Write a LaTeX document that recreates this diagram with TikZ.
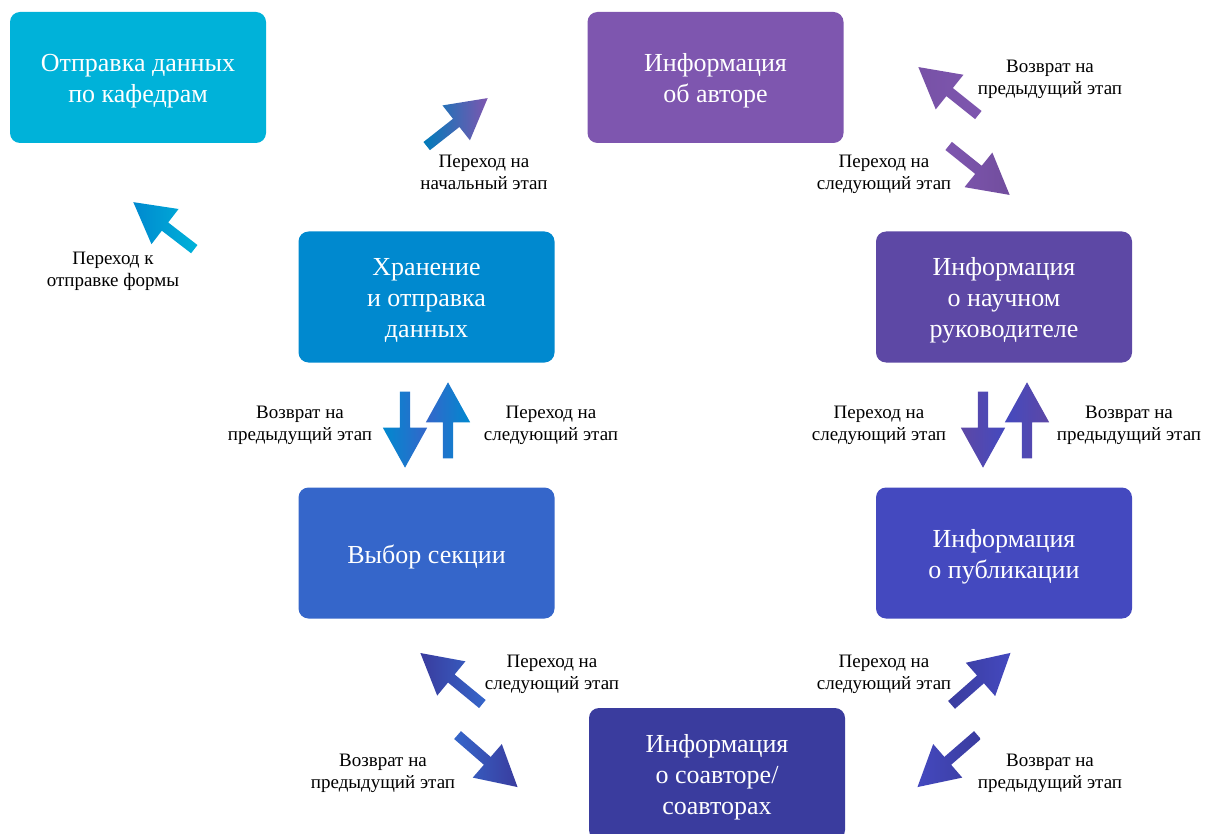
\documentclass[tikz,border=0pt]{standalone}
\usepackage{fontspec}
\setmainfont{Liberation Serif}
\usetikzlibrary{shapes.arrows,calc}
\definecolor{cA}{HTML}{00B2D9}
\definecolor{cB}{HTML}{7E56AF}
\definecolor{cC}{HTML}{0089CF}
\definecolor{cD}{HTML}{5D48A5}
\definecolor{cE}{HTML}{3566CA}
\definecolor{cF}{HTML}{4449BF}
\definecolor{cG}{HTML}{3A3C9E}
\tikzset{
  stage/.style={fill=#1, rounded corners=10pt, minimum width=256pt, minimum height=131pt, inner sep=0pt},
  stagetext/.style={text=white, font=\fontsize{26}{31}\selectfont, align=center, inner sep=0pt},
  lbl/.style={font=\fontsize{19}{22}\selectfont, align=center, text=black, inner sep=0pt},
  barrowst/.style={single arrow, inner sep=5pt, single arrow head extend=17pt,
    single arrow tip angle=58, single arrow head indent=0pt, minimum width=44pt, draw=none, outer sep=0pt}
}
\newcommand\barrow[4]{%
  \path let \p1=($(#2)-(#1)$), \n1={atan2(\y1,\x1)}, \n2={veclen(\x1,\y1)} in
    node[barrowst, minimum height=\n2, rotate=\n1, #3] (#4) at ($(#1)!0.5!(#2)$) {};}
\begin{document}
\begin{tikzpicture}[x=1pt,y=-1pt]
\useasboundingbox (0,0) rectangle (1206,834);
\clip (0,0) rectangle (1206,834);
% stages
\node[stage=cA] (s1) at (138,77.5) {};
\node[stage=cB] (s2) at (715.5,77.5) {};
\node[stage=cC] (s3) at (426.5,297) {};
\node[stage=cD] (s4) at (1004,297) {};
\node[stage=cE] (s5) at (426.5,553) {};
\node[stage=cF] (s6) at (1004,553) {};
\node[stage=cG, minimum height=132pt] (s7) at (717,774) {};
\node[stagetext] (t1) at ([yshift=-3.5pt]s1.center) {Отправка данных\\по кафедрам};
\node[stagetext] (t2) at ([yshift=-3.5pt]s2.center) {Информация\\об авторе};
\node[stagetext] (t3) at ([yshift=-3.5pt]s3.center) {Хранение\\и отправка\\данных};
\node[stagetext] (t4) at ([yshift=-3.5pt]s4.center) {Информация\\о научном\\руководителе};
\node[stagetext] (t5) at ([yshift=-3.5pt]s5.center) {Выбор секции};
\node[stagetext] (t6) at ([yshift=-3.5pt]s6.center) {Информация\\о публикации};
\node[stagetext] (t7) at ([yshift=-3.5pt]s7.center) {Информация\\о соавторе/\\соавторах};
% arrow end coordinates
\coordinate (a1t) at (423,149); \coordinate (a1h) at (484,101);
\coordinate (a2t) at (982,118); \coordinate (a2h) at (922,70);
\coordinate (a3t) at (945,143); \coordinate (a3h) at (1006,192);
\coordinate (a4t) at (198,252); \coordinate (a4h) at (137,205);
\coordinate (a5t) at (405,387); \coordinate (a5h) at (405,463);
\coordinate (a6t) at (448,463); \coordinate (a6h) at (448,387);
\coordinate (a7t) at (983,387); \coordinate (a7h) at (983,463);
\coordinate (a8t) at (1027,463); \coordinate (a8h) at (1027,387);
\coordinate (a9t) at (486,707); \coordinate (a9h) at (424,656);
\coordinate (a10t) at (454,732); \coordinate (a10h) at (514,784);
\coordinate (a11t) at (948,708); \coordinate (a11h) at (1007,656);
\coordinate (a12t) at (981,732); \coordinate (a12h) at (921,784);
% arrows
\barrow{a1t}{a1h}{left color=cC!90!black, right color=cB}{ar1}
\barrow{a2t}{a2h}{left color=cB!95!black, right color=cB}{ar2}
\barrow{a3t}{a3h}{left color=cB, right color=cB!90!black}{ar3}
\barrow{a4t}{a4h}{left color=cC, right color=cA}{ar4}
\barrow{a5t}{a5h}{left color=cC, right color=cE}{ar5}
\barrow{a6t}{a6h}{left color=cE, right color=cC}{ar6}
\barrow{a7t}{a7h}{left color=cD, right color=cF}{ar7}
\barrow{a8t}{a8h}{left color=cF, right color=cD}{ar8}
\barrow{a9t}{a9h}{left color=cG, right color=cE}{ar9}
\barrow{a10t}{a10h}{left color=cE, right color=cG}{ar10}
\barrow{a11t}{a11h}{left color=cG, right color=cF}{ar11}
\barrow{a12t}{a12h}{left color=cF, right color=cG}{ar12}
% labels
\node[lbl] (l1) at (484,172) {Переход на\\начальный этап};
\node[lbl] (l2) at (1050,79) {Возврат на\\предыдущий этап};
\node[lbl] (l3) at (884,174) {Переход на\\следующий этап};
\node[lbl] (l4) at (113,271) {Переход к\\отправке формы};
\node[lbl] (l5) at (300,425) {Возврат на\\предыдущий этап};
\node[lbl] (l6) at (551,425) {Переход на\\следующий этап};
\node[lbl] (l7) at (879,425) {Переход на\\следующий этап};
\node[lbl] (l8) at (1129,425) {Возврат на\\предыдущий этап};
\node[lbl] (l9) at (552,674) {Переход на\\следующий этап};
\node[lbl] (l10) at (383,773) {Возврат на\\предыдущий этап};
\node[lbl] (l11) at (884,674) {Переход на\\следующий этап};
\node[lbl] (l12) at (1050,773) {Возврат на\\предыдущий этап};
\end{tikzpicture}
\end{document}
